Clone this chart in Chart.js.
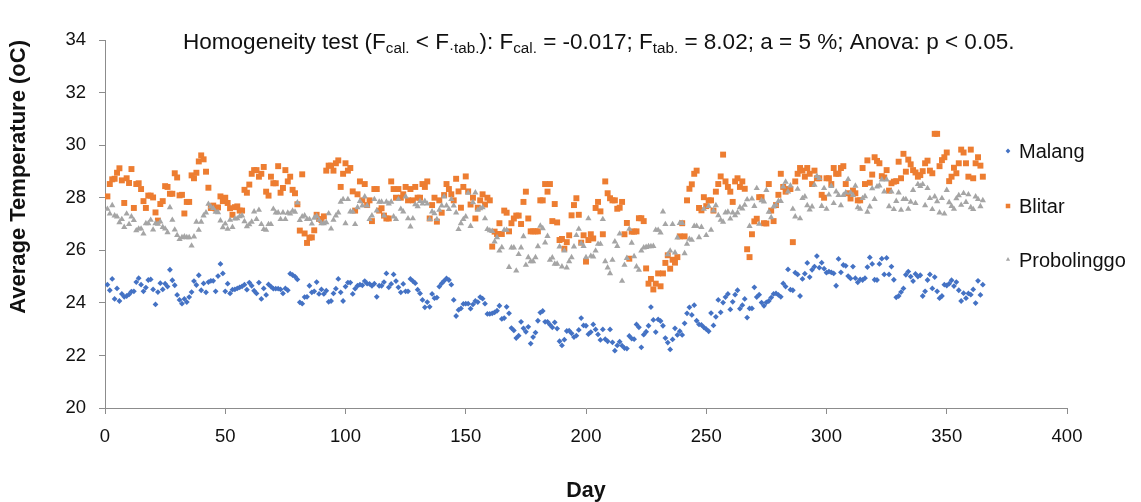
<!DOCTYPE html>
<html>
<head>
<meta charset="utf-8">
<script src="https://cdn.jsdelivr.net/npm/chart.js@4.4.1/dist/chart.umd.min.js"></script>
<style>
html,body{margin:0;padding:0;background:#ffffff;}
#wrap{width:1141px;height:502px;position:relative;}
</style>
</head>
<body>
<div id="wrap"><canvas id="c" width="1141" height="502"></canvas></div>
<script>
// ---- DATA ----
const seriesNames = ['Malang', 'Blitar', 'Probolinggo'];
const xTicks = [0, 50, 100, 150, 200, 250, 300, 350, 400];
const yTicks = [20, 22, 24, 26, 28, 30, 32, 34];

const malang = [
24.69,24.48,24.91,24.15,24.55,24.07,24.34,24.23,24.26,24.32,24.43,24.44,24.79,24.94,24.69,24.44,24.58,24.87,24.89,24.51,
23.94,24.41,24.75,24.51,24.73,24.62,25.26,24.86,24.67,24.30,24.11,23.97,24.15,24.03,24.22,24.41,24.83,24.68,25.05,24.48,
24.74,24.40,24.79,24.84,24.84,
24.44,25.02,25.48,25.12,24.44,24.73,24.36,24.50,24.51,24.55,24.59,24.63,24.69,24.50,24.77,24.65,24.46,24.36,24.77,24.15,
24.55,24.30,24.70,24.62,24.54,24.54,24.54,24.51,24.36,24.55,24.48,25.11,25.06,25.00,24.89,24.02,23.97,24.22,24.23,24.65,
24.40,24.44,24.79,24.34,24.51,24.34,
24.46,24.04,24.07,24.36,24.54,24.91,24.40,24.07,24.62,24.77,24.77,24.34,24.54,24.65,24.69,24.67,24.83,24.73,24.72,24.65,
24.73,24.23,24.65,24.65,24.79,25.12,24.59,24.72,25.08,24.83,24.59,24.40,24.72,24.44,24.44,24.91,24.83,24.75,24.50,24.36,
24.11,23.83,24.03,23.85,24.34,24.18,
24.20,24.62,24.74,24.84,24.93,24.87,24.69,24.11,23.50,23.73,23.79,23.96,23.97,23.97,23.78,23.94,24.07,24.03,24.22,24.16,
23.97,23.58,23.58,23.60,23.64,23.70,23.89,23.39,23.42,23.85,23.60,23.04,22.95,22.66,22.75,23.28,23.03,22.90,23.09,22.45,
22.70,22.87,23.32,23.63,23.69,23.28,
23.28,23.17,23.07,23.26,23.02,22.54,22.38,22.60,22.93,22.94,22.84,22.70,22.75,22.97,23.42,23.14,23.13,22.81,22.89,23.18,
22.99,22.80,22.59,22.99,22.62,22.54,22.99,22.50,22.18,22.38,22.52,22.37,22.28,22.26,22.74,22.64,22.62,23.18,23.07,22.31,
22.79,22.90,23.13,23.84,23.35,
22.89,23.37,23.31,23.13,22.66,22.49,22.23,22.61,23.03,22.78,22.92,22.78,23.22,23.60,23.83,23.54,23.91,23.32,23.18,23.16,
23.07,23.00,22.92,23.61,23.14,23.47,24.11,23.64,24.01,24.22,24.34,23.75,24.04,24.31,24.48,23.78,23.91,24.15,23.44,23.79,
23.79,24.59,24.22,24.31,24.01,23.89,
24.02,24.07,24.20,24.34,24.36,24.30,24.23,24.74,24.62,25.27,24.50,24.48,25.15,25.08,24.26,24.91,25.11,25.52,24.98,25.26,
25.38,25.78,25.34,25.53,25.30,25.15,25.19,25.16,25.12,24.65,25.67,25.16,25.44,25.41,25.02,24.93,25.38,24.94,24.78,24.89,
24.87,24.94,25.36,25.73,25.48,24.88,
24.87,25.48,25.68,25.08,25.71,25.08,25.38,24.88,24.21,24.26,24.41,24.55,25.07,25.19,25.00,24.83,25.10,25.00,25.05,24.26,
24.44,24.87,25.08,24.55,24.98,24.44,24.18,24.26,24.69,24.66,24.73,24.86,24.64,24.79,24.48,24.07,24.37,24.18,24.36,24.31,
24.51,23.99,24.84,24.30,24.69
];

const blitar = [
28.05,28.52,28.70,28.72,28.95,29.12,28.66,27.80,28.74,28.56,29.09,27.61,28.52,28.55,28.33,27.87,27.61,28.08,28.08,28.01,
27.44,27.13,27.76,27.87,28.44,28.41,28.15,28.15,28.93,28.77,28.09,28.11,27.40,27.84,27.84,28.85,28.74,28.95,29.38,29.61,
29.46,28.99,28.38,27.61,27.70,
27.59,27.63,28.05,27.87,28.00,27.80,27.60,27.35,27.64,27.67,27.51,27.51,28.30,28.19,28.50,28.91,29.05,29.05,28.80,28.91,
29.17,28.23,28.08,28.80,28.55,28.55,29.20,28.19,28.37,29.05,28.62,28.80,28.30,28.17,27.75,26.75,28.89,26.64,26.28,26.48,
26.49,26.76,27.35,27.19,27.15,27.29,
29.03,29.22,29.22,29.03,29.31,29.42,28.41,28.91,29.31,29.03,29.13,28.24,27.51,28.13,28.62,27.90,28.52,27.72,27.90,27.11,
28.33,28.33,27.51,27.60,27.32,27.21,27.21,28.62,28.33,28.00,28.33,28.00,28.13,28.41,27.90,28.33,27.90,28.41,28.00,28.00,
28.52,28.41,28.62,27.21,27.72,28.00,
27.09,27.90,27.43,28.10,28.52,28.33,28.13,27.90,28.72,28.24,27.62,28.41,28.81,28.24,27.74,28.00,27.21,27.62,27.90,28.13,
27.74,28.00,27.90,26.14,26.71,26.62,27.03,26.62,27.51,27.43,26.72,27.03,27.21,27.32,27.32,27.00,27.84,28.23,27.21,26.72,
26.72,26.72,26.72,27.90,27.90,28.52,
28.23,28.52,27.11,27.76,27.06,26.39,26.43,26.06,26.31,26.57,27.33,27.72,27.98,27.35,26.29,26.57,25.57,26.39,26.61,26.45,
27.61,27.84,27.48,26.61,28.62,28.17,27.98,27.90,27.90,27.58,27.62,27.84,26.61,27.04,25.68,26.71,26.71,26.72,27.22,27.22,
27.11,25.31,24.73,24.91,24.51,
24.73,25.12,24.63,25.12,25.52,25.81,25.30,25.64,25.53,25.74,26.53,27.03,26.53,27.90,28.34,28.51,28.91,29.03,27.61,27.52,
28.02,27.68,27.90,27.90,27.51,28.23,28.52,28.81,29.64,28.62,28.41,28.23,27.84,28.62,28.74,28.41,28.62,28.34,26.04,25.74,
26.61,27.10,27.20,28.02,28.02,27.03,
27.02,28.52,27.51,27.11,27.72,28.11,28.91,28.41,28.23,28.33,28.33,26.31,28.62,28.91,29.13,29.03,28.80,29.13,28.91,28.52,
29.03,28.74,28.74,28.11,28.00,28.74,28.74,28.52,29.13,28.91,28.91,29.13,29.20,28.52,28.17,27.97,28.27,28.17,27.90,27.90,
29.13,28.52,29.42,28.57,28.88,29.54,
29.40,29.31,28.82,28.77,29.05,28.27,28.55,28.61,28.63,29.37,28.74,29.67,28.99,29.45,29.27,29.05,28.96,28.80,28.86,29.01,
29.31,29.41,29.03,28.93,30.43,30.43,29.20,29.43,29.54,29.72,28.63,28.80,29.14,28.93,29.31,29.83,29.72,29.31,28.80,29.83,
28.74,29.31,29.54,29.22,28.80
];

const probolinggo = [
27.57,27.39,27.71,27.32,27.28,27.06,27.18,26.88,27.39,26.99,27.28,27.14,26.75,26.82,26.82,26.63,27.02,27.02,27.15,26.78,
27.02,27.00,27.09,26.88,26.82,26.68,27.63,27.15,26.78,26.57,26.42,26.49,26.52,26.49,26.49,26.17,26.52,27.08,26.77,27.08,
27.32,27.43,27.76,27.66,27.60,
27.46,27.44,27.13,26.87,27.01,26.81,27.15,26.88,27.20,27.21,27.29,27.32,27.10,26.91,26.98,27.08,27.47,27.18,27.53,26.99,
26.80,26.77,26.99,26.99,27.57,27.43,27.43,27.18,27.43,27.18,27.42,27.39,27.50,27.46,27.81,27.14,27.28,27.32,27.18,27.18,
27.01,27.23,27.30,27.15,27.02,27.02,
27.06,27.40,26.82,27.15,27.32,27.43,27.84,27.94,27.02,27.94,27.47,27.47,26.99,27.63,27.87,27.70,28.04,27.70,27.18,27.32,
27.94,27.51,27.84,27.84,27.32,27.84,27.77,27.84,27.28,27.18,27.94,27.57,27.47,28.04,27.21,26.90,27.21,27.74,27.67,27.87,
27.77,27.87,27.77,27.18,27.47,27.40,
27.18,27.53,27.70,28.04,27.70,27.56,27.94,27.70,27.43,26.80,27.02,27.18,27.28,28.18,26.92,27.82,28.19,27.53,27.59,27.63,
27.21,26.80,26.75,26.73,26.33,26.49,25.98,26.11,26.77,26.77,25.36,26.10,26.10,25.22,25.85,26.10,26.53,25.44,25.73,25.58,
25.58,25.73,26.15,26.93,26.83,26.29,
26.54,25.63,25.72,25.48,25.48,26.14,25.38,25.98,25.34,25.58,25.73,26.14,26.57,26.81,26.26,26.16,25.73,27.21,25.78,25.76,
25.98,26.24,26.24,27.18,25.58,25.34,25.12,25.63,26.33,26.16,26.63,24.83,25.44,25.70,26.81,26.28,25.77,25.38,25.25,25.98,
26.10,26.12,26.15,26.15,26.16,
26.77,26.77,26.67,27.47,26.99,25.84,25.98,26.99,25.91,26.48,27.03,27.03,25.88,26.24,26.43,26.39,26.92,26.92,26.49,26.88,
27.57,26.57,27.68,26.77,27.51,27.71,27.33,27.15,27.08,27.43,27.46,27.20,27.43,27.33,27.43,27.63,27.58,27.72,27.93,26.92,
27.96,27.68,28.36,27.00,27.90,27.85,
28.29,27.46,27.25,27.66,27.72,27.87,27.87,28.42,28.60,28.23,28.46,27.57,27.28,28.33,27.21,27.98,28.04,27.71,27.54,27.66,
28.49,28.82,28.74,27.68,28.36,27.57,28.11,28.44,27.79,28.23,28.10,27.71,28.10,28.19,28.70,28.19,28.10,28.45,27.63,27.57,
27.98,28.05,27.46,27.66,28.35,27.94,
28.42,28.46,28.69,28.23,28.69,27.67,28.23,27.56,27.87,28.19,27.53,27.94,27.94,27.57,27.84,28.29,27.79,28.51,28.44,28.51,
27.71,28.36,27.98,27.56,28.04,27.86,27.43,27.98,27.39,28.29,27.82,27.68,27.57,27.97,28.09,27.72,28.17,27.83,28.12,27.63,
27.56,28.04,27.94,27.67,27.90
];

// day numbers 1..N for each reading
const days = malang.map((_, i) => i + 1);

// ---- STYLE ----
const FONT = "'Liberation Sans', Arial, sans-serif";
const TEXT = '#111111';
const AXIS_GREY = '#8c8c8c';
const COLORS = ['#4472C4', '#ED7D31', '#A5A5A5'];
const STYLES = ['rectRot', 'rect', 'triangle'];
const RADII = [2.9, 4.2, 3.6];

function pts(vals) { return vals.map((v, i) => ({ x: days[i], y: v })); }

// annotation text with subscripts, drawn on the canvas
const titleParts = [
  ['Homogeneity test (F', false], ['cal.', true], [' < F', false], ['\u00B7tab.', true],
  ['): F', false], ['cal.', true], [' = -0.017; F', false], ['tab.', true],
  [' = 8.02; a = 5 %; Anova: p < 0.05.', false]
];

const annotationPlugin = {
  id: 'annot',
  afterDraw(chart) {
    const ctx = chart.ctx;
    ctx.save();
    const mainSize = 18.5, subSize = 12.5;
    const measure = (s, sub) => { ctx.font = (sub ? subSize : mainSize) + 'px ' + FONT; return ctx.measureText(s).width; };
    let total = 0;
    titleParts.forEach(([s, sub]) => total += measure(s, sub));
    const k = 832 / total;
    let x = 183;
    const base = 48.5;
    ctx.fillStyle = TEXT;
    ctx.textBaseline = 'alphabetic';
    ctx.textAlign = 'left';
    titleParts.forEach(([s, sub]) => {
      ctx.font = ((sub ? subSize : mainSize) * k) + 'px ' + FONT;
      ctx.fillText(s, x, sub ? base + 4 : base);
      x += ctx.measureText(s).width;
    });

    // legend on the right
    const legendY = [151, 206, 259.5];
    ctx.font = '20px ' + FONT;
    seriesNames.forEach((name, i) => {
      ctx.fillStyle = COLORS[i];
      ctx.strokeStyle = COLORS[i];
      Chart.helpers.drawPoint(ctx, { pointStyle: STYLES[i], radius: i === 1 ? 3.2 : 2.4, rotation: 0, borderWidth: 0 }, 1008, legendY[i]);
      ctx.fillStyle = TEXT;
      ctx.fillText(name, 1019, legendY[i] + 7.2);
    });
    ctx.restore();
  }
};

const datasets = [malang, blitar, probolinggo].map((vals, i) => ({
  label: seriesNames[i],
  data: pts(vals),
  pointStyle: STYLES[i],
  pointRadius: RADII[i],
  pointHoverRadius: RADII[i],
  pointBackgroundColor: COLORS[i],
  pointBorderColor: COLORS[i],
  pointBorderWidth: 0,
  showLine: false,
  order: 3 - i
}));

new Chart(document.getElementById('c'), {
  type: 'scatter',
  data: { datasets },
  options: {
    responsive: false,
    animation: false,
    devicePixelRatio: 1,
    layout: { padding: { top: 40, right: 74, bottom: 0, left: 0 } },
    plugins: { legend: { display: false }, tooltip: { enabled: false } },
    scales: {
      x: {
        type: 'linear', position: 'bottom',
        min: xTicks[0], max: xTicks[xTicks.length - 1],
        afterBuildTicks: (s) => { s.ticks = xTicks.map(v => ({ value: v })); },
        ticks: { color: TEXT, font: { family: FONT, size: 18.5 }, padding: 12, maxRotation: 0, autoSkip: false },
        grid: { drawOnChartArea: false, drawTicks: true, tickLength: 6, color: AXIS_GREY },
        border: { display: true, color: AXIS_GREY, width: 1 },
        title: { display: true, text: 'Day', color: TEXT, font: { family: FONT, size: 21.5, weight: 'bold', lineHeight: 1 }, padding: { top: 0, bottom: 0 } },
        afterFit: (s) => { s.height = 94; }
      },
      y: {
        type: 'linear', position: 'left',
        min: yTicks[0], max: yTicks[yTicks.length - 1],
        afterBuildTicks: (s) => { s.ticks = yTicks.map(v => ({ value: v })); },
        ticks: { color: TEXT, font: { family: FONT, size: 18.5 }, padding: 13, autoSkip: false },
        grid: { drawOnChartArea: false, drawTicks: true, tickLength: 6, color: AXIS_GREY },
        border: { display: true, color: AXIS_GREY, width: 1 },
        title: { display: true, text: 'Average Temperature (oC)', align: 'end', color: TEXT, font: { family: FONT, size: 22, weight: 'bold' }, padding: { top: 6, bottom: 0 } },
        afterFit: (s) => { s.width = 105; }
      }
    }
  },
  plugins: [annotationPlugin]
});
</script>
</body>
</html>
